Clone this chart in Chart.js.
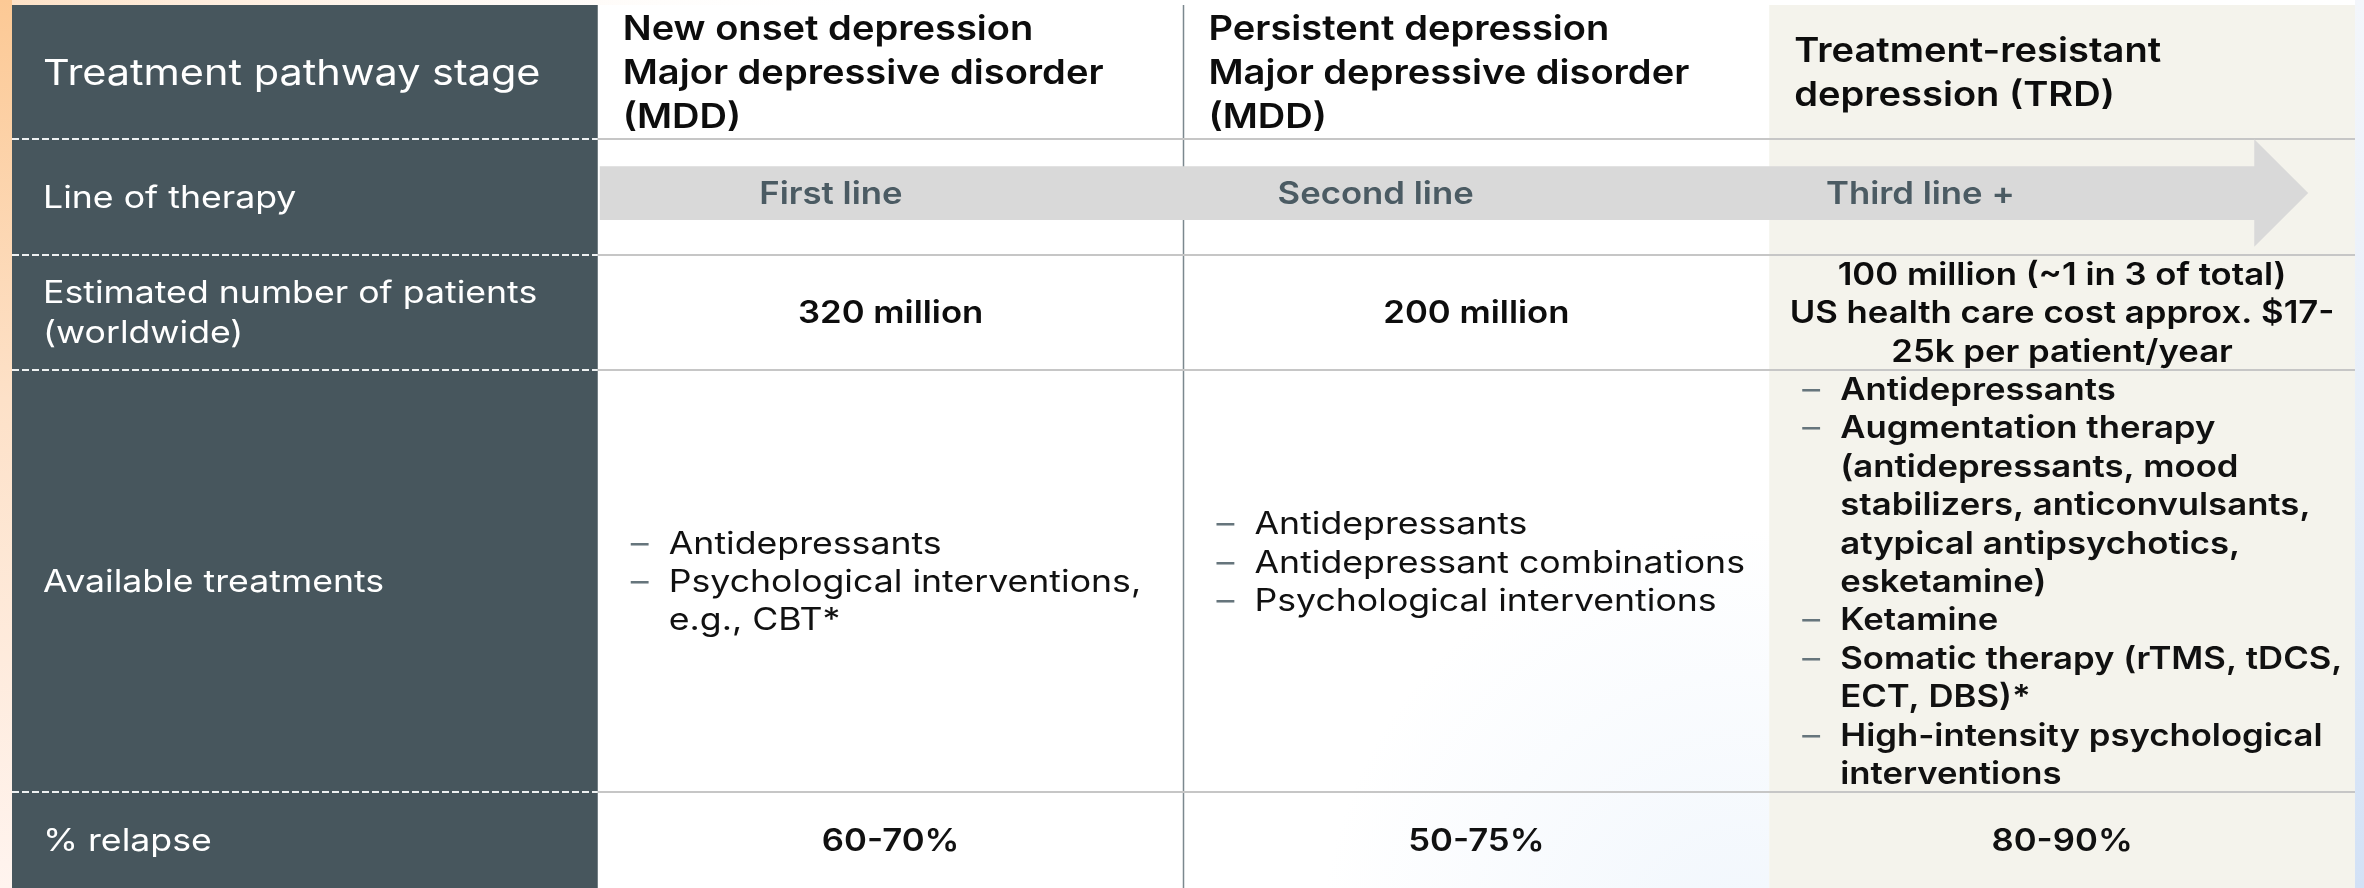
<!DOCTYPE html>
<html>
<head>
<meta charset="utf-8">
<title>Treatment pathway</title>
<script src="https://cdn.jsdelivr.net/npm/chart.js@4.4.1/dist/chart.umd.min.js"></script>
<style>
  html, body { margin: 0; padding: 0; background: #fff; overflow: hidden; }
  canvas { display: block; }
</style>
</head>
<body>
<canvas id="pathway" width="2364" height="888"></canvas>
<script>
// ----- Table content -----
const rowLabels = [
  'Treatment pathway stage',
  'Line of therapy',
  'Estimated number of patients\n(worldwide)',
  'Available treatments',
  '% relapse'
];
const stageTitles = [
  'New onset depression\nMajor depressive disorder\n(MDD)',
  'Persistent depression\nMajor depressive disorder\n(MDD)',
  'Treatment-resistant\ndepression (TRD)'
];
const therapyLines = ['First line', 'Second line', 'Third line +'];
const patientCounts = [
  '320 million',
  '200 million',
  '100 million (~1 in 3 of total)\nUS health care cost approx. $17-\n25k per patient/year'
];
const treatments = [
  ['Antidepressants', 'Psychological interventions,\ne.g., CBT*'],
  ['Antidepressants', 'Antidepressant combinations', 'Psychological interventions', ''],
  [
    'Antidepressants',
    'Augmentation therapy\n(antidepressants, mood\nstabilizers, anticonvulsants,\natypical antipsychotics,\nesketamine)',
    'Ketamine',
    'Somatic therapy (rTMS, tDCS,\nECT, DBS)*',
    'High-intensity psychological\ninterventions'
  ]
];
const relapseRates = ['60-70%', '50-75%', '80-90%'];

// ----- Layout (y axis counts body text lines, x axis counts columns) -----
const rowLines = [3.5, 3, 3, 11, 2.5];
const rowEdges = rowLines.reduce((acc, n) => { acc.push(acc[acc.length - 1] + n); return acc; }, [0]);
const arrowLabelStart = 1.398;
const arrowLabelStep = 0.93;
const arrowHeadStart = 3.828;
const arrowTip = 3.92;

const FONT = 'Inter, "Open Sans", sans-serif';

function font(size, weight) { return `${weight} ${size}px ${FONT}`; }

// wide geometric look: draw the glyphs slightly stretched (less for the heavier weight)
function drawText(ctx, text, x, y, align) {
  const heavy = parseInt(ctx.font, 10) >= 600;
  ctx.save();
  ctx.translate(x, y);
  ctx.scale(heavy ? 1.12 : 1.15, 1);
  ctx.textAlign = align || 'left';
  ctx.textBaseline = 'alphabetic';
  ctx.fillText(text, 0, 0);
  ctx.restore();
}

// block of lines centred on a pixel y
function drawBlock(ctx, lines, x, cy, size, spacing, align) {
  const first = cy - (lines.length - 1) * spacing / 2;
  lines.forEach((t, i) => drawText(ctx, t, x, first + i * spacing + size * 0.36, align));
}

const tablePlugin = {
  id: 'pathwayTable',
  beforeDraw(chart) {
    const { ctx, chartArea: area, width, height } = chart;
    const X = v => chart.scales.x.getPixelForValue(v);
    const Y = v => chart.scales.y.getPixelForValue(v);
    const unit = Y(1) - Y(0);
    const rowMid = r => rowEdges[r] + rowLines[r] / 2;

    // ----- Page background -----
    ctx.save();
    ctx.fillStyle = '#ffffff';
    ctx.fillRect(0, 0, width, height);

    let g = ctx.createRadialGradient(0, 0, 0, 0, 0, 900);
    g.addColorStop(0, 'rgba(252,200,150,0.55)');
    g.addColorStop(0.5, 'rgba(253,225,200,0.25)');
    g.addColorStop(1, 'rgba(255,255,255,0)');
    ctx.fillStyle = g;
    ctx.fillRect(0, 0, width, height);

    g = ctx.createLinearGradient(0, 0, 0, height);
    g.addColorStop(0, '#fcc995');
    g.addColorStop(0.45, '#fde1c8');
    g.addColorStop(1, '#fff4ef');
    ctx.fillStyle = g;
    ctx.fillRect(0, 0, area.left, height);

    g = ctx.createLinearGradient(0, 0, 0, height);
    g.addColorStop(0, '#f3f6fb');
    g.addColorStop(0.5, '#e6eef9');
    g.addColorStop(1, '#d2e1f6');
    ctx.fillStyle = g;
    ctx.fillRect(area.right, 0, width - area.right, height);

    // data cells: white with a faint haze
    ctx.fillStyle = 'rgba(255,255,255,0.93)';
    ctx.fillRect(X(1), area.top, X(3) - X(1), area.bottom - area.top);
    g = ctx.createRadialGradient(X(2.95), area.bottom + 60, 0, X(2.95), area.bottom + 60, 420);
    g.addColorStop(0, 'rgba(214,230,248,0.35)');
    g.addColorStop(1, 'rgba(214,230,248,0)');
    ctx.fillStyle = g;
    ctx.fillRect(X(1), area.top, X(3) - X(1), area.bottom - area.top);

    // ----- Column fills -----
    ctx.fillStyle = '#f4f3ec';
    ctx.fillRect(X(3), area.top, X(4) - X(3), area.bottom - area.top);
    ctx.fillStyle = '#47565d';
    ctx.fillRect(X(0), area.top, X(1) - X(0), area.bottom - area.top);

    // ----- Rules -----
    ctx.strokeStyle = '#7b888e';
    ctx.lineWidth = 1.5;
    ctx.beginPath();
    ctx.moveTo(X(2), area.top);
    ctx.lineTo(X(2), area.bottom);
    ctx.stroke();

    ctx.lineWidth = 2;
    for (let r = 1; r < rowEdges.length - 1; r++) {
      const yy = Math.round(Y(rowEdges[r]));
      ctx.setLineDash([]);
      ctx.strokeStyle = '#c6c6c6';
      ctx.beginPath();
      ctx.moveTo(X(1), yy);
      ctx.lineTo(X(4), yy);
      ctx.stroke();
      ctx.setLineDash([7, 3]);
      ctx.strokeStyle = '#eef1f2';
      ctx.beginPath();
      ctx.moveTo(X(0), yy);
      ctx.lineTo(X(1), yy);
      ctx.stroke();
    }
    ctx.setLineDash([]);

    // ----- Line-of-therapy arrow -----
    const ac = rowMid(1) - 0.1;
    ctx.fillStyle = '#d9d9d9';
    ctx.beginPath();
    ctx.moveTo(X(1) + 2, Y(ac - 0.7));
    ctx.lineTo(X(arrowHeadStart), Y(ac - 0.7));
    ctx.lineTo(X(arrowHeadStart), Y(ac - 1.4));
    ctx.lineTo(X(arrowTip), Y(ac));
    ctx.lineTo(X(arrowHeadStart), Y(ac + 1.4));
    ctx.lineTo(X(arrowHeadStart), Y(ac + 0.7));
    ctx.lineTo(X(1) + 2, Y(ac + 0.7));
    ctx.closePath();
    ctx.fill();

    ctx.fillStyle = '#4b5b63';
    ctx.font = font(31, 600);
    therapyLines.forEach((t, i) => {
      drawText(ctx, t, X(arrowLabelStart + i * arrowLabelStep), Y(ac) + 31 * 0.36, 'center');
    });

    // ----- Row labels -----
    ctx.fillStyle = '#ffffff';
    rowLabels.forEach((label, r) => {
      const size = r === 0 ? 36 : 31;
      ctx.font = font(size, 400);
      drawBlock(ctx, label.split('\n'), X(0) + 31, Y(rowMid(r)), size, unit * 1.04, 'left');
    });

    // ----- Stage headers -----
    ctx.fillStyle = '#0d0d0d';
    ctx.font = font(34, 600);
    stageTitles.forEach((t, c) => {
      drawBlock(ctx, t.split('\n'), X(c + 1) + 25, Y(rowMid(0)), 34, 44, 'left');
    });

    // ----- Patient numbers -----
    ctx.font = font(31, 600);
    patientCounts.forEach((t, c) => {
      drawBlock(ctx, t.split('\n'), X(c + 1.5), Y(rowMid(2)), 31, unit, 'center');
    });

    // ----- Treatment bullets -----
    treatments.forEach((items, c) => {
      const lines = [];
      items.forEach(item => item.split('\n').forEach((t, k) => lines.push({ t, bullet: k === 0 && item !== '' })));
      const first = rowMid(3) - (lines.length - 1) / 2;
      lines.forEach((ln, i) => {
        const base = Y(first + i) + 31 * 0.36;
        if (ln.bullet) {
          ctx.fillStyle = '#66757c';
          ctx.font = font(31, 400);
          drawText(ctx, '\u2013', X(c + 1) + 33, base, 'left');
        }
        ctx.fillStyle = '#111111';
        ctx.font = font(31, c === 2 ? 600 : 400);
        drawText(ctx, ln.t, X(c + 1) + 71, base, 'left');
      });
    });

    // ----- Relapse rates -----
    ctx.fillStyle = '#111111';
    ctx.font = font(31, 600);
    relapseRates.forEach((t, c) => {
      drawText(ctx, t, X(c + 1.5), Y(rowMid(4)) + 31 * 0.36, 'center');
    });
    ctx.restore();
  }
};

new Chart(document.getElementById('pathway'), {
  type: 'scatter',
  data: { datasets: [] },
  options: {
    responsive: false,
    animation: false,
    events: [],
    layout: { padding: { left: 12, right: 9, top: 5, bottom: 0 } },
    plugins: { legend: { display: false }, tooltip: { enabled: false } },
    scales: {
      x: { type: 'linear', min: 0, max: 4, display: false },
      y: { type: 'linear', min: 0, max: rowEdges[rowEdges.length - 1], reverse: true, display: false }
    }
  },
  plugins: [tablePlugin]
});
</script>
</body>
</html>
